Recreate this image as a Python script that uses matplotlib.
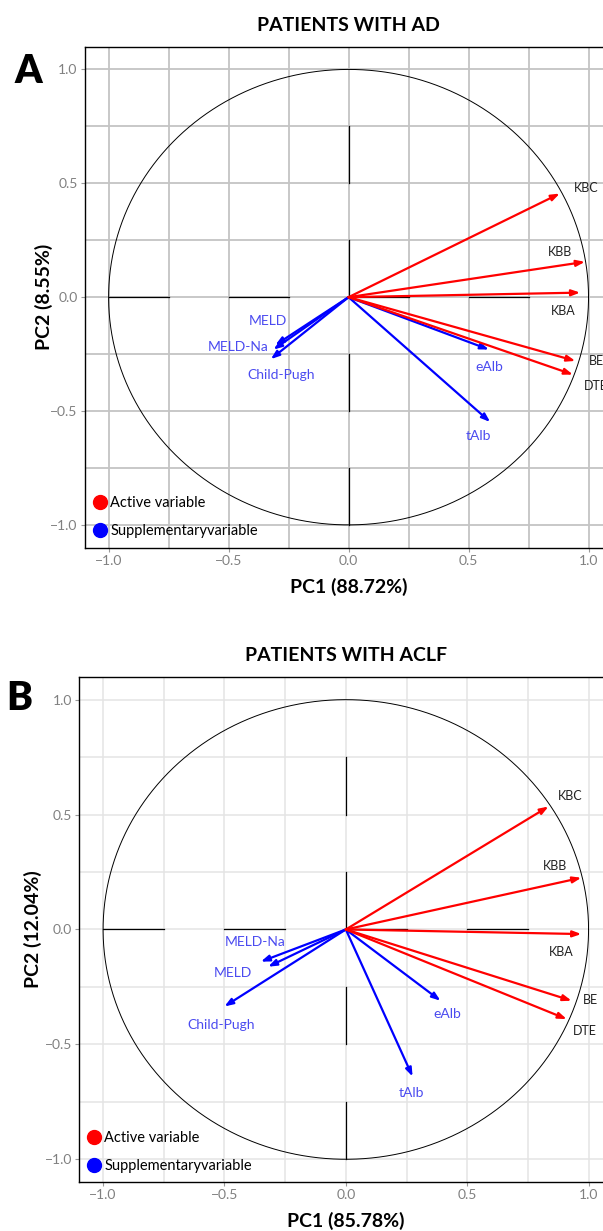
import numpy as np
import matplotlib
matplotlib.use('Agg')
import matplotlib.pyplot as plt
from matplotlib.lines import Line2D

# Panel A - patients with AD
ad_active = ['KBC', 'KBB', 'KBA', 'BE', 'DTE']
ad_active_pc1 = [0.88, 0.985, 0.965, 0.945, 0.935]
ad_active_pc2 = [0.455, 0.155, 0.02, -0.28, -0.34]
ad_supp = ['MELD', 'MELD-Na', 'Child-Pugh', 'eAlb', 'tAlb']
ad_supp_pc1 = [-0.305, -0.313, -0.324, 0.585, 0.59]
ad_supp_pc2 = [-0.21, -0.23, -0.272, -0.23, -0.548]
ad_var_pc1 = 88.72
ad_var_pc2 = 8.55

# Panel B - patients with ACLF
aclf_active = ['KBC', 'KBB', 'KBA', 'BE', 'DTE']
aclf_active_pc1 = [0.835, 0.97, 0.97, 0.93, 0.91]
aclf_active_pc2 = [0.535, 0.225, -0.02, -0.31, -0.39]
aclf_supp = ['MELD-Na', 'MELD', 'Child-Pugh', 'eAlb', 'tAlb']
aclf_supp_pc1 = [-0.35, -0.32, -0.5, 0.39, 0.275]
aclf_supp_pc2 = [-0.14, -0.162, -0.335, -0.31, -0.64]
aclf_var_pc1 = 85.78
aclf_var_pc2 = 12.04

plt.rcParams['font.family'] = ['Lato', 'DejaVu Sans']

RED = '#ff0000'
BLUE = '#0000ff'
LBLUE = '#4b4bf0'


def draw_panel(ax, title, active, a1, a2, supp, s1, s2, v1, v2,
               active_lbl, supp_lbl, grid_col, grid_lw, ylab_pad):
    ax.set_xlim(-1.1, 1.1)
    ax.set_ylim(-1.1, 1.1)
    ticks = np.arange(-1, 1.01, 0.5)
    ax.set_xticks(ticks)
    ax.set_yticks(ticks)
    ax.set_xticks(np.arange(-1, 1.01, 0.25), minor=True)
    ax.set_yticks(np.arange(-1, 1.01, 0.25), minor=True)
    ax.set_xticklabels(['\u22121.0', '\u22120.5', '0.0', '0.5', '1.0'])
    ax.set_yticklabels(['\u22121.0', '\u22120.5', '0.0', '0.5', '1.0'])
    ax.grid(True, which='both', color=grid_col, lw=grid_lw, zorder=0)
    ax.set_axisbelow(True)
    ax.tick_params(which='major', length=3, color='#999999', labelsize=10,
                   labelcolor='#808080', pad=2)
    ax.tick_params(which='minor', length=0)
    for sp in ax.spines.values():
        sp.set_color('black')
        sp.set_linewidth(1.0)

    # dashed reference lines at 0
    for s in np.arange(-1, 1, 0.5):
        ax.plot([s, s + 0.25], [0, 0], color='black', lw=0.9, zorder=1)
        ax.plot([0, 0], [s, s + 0.25], color='black', lw=0.9, zorder=1)

    # correlation circle
    t = np.linspace(0, 2 * np.pi, 400)
    ax.plot(np.cos(t), np.sin(t), color='black', lw=0.7, zorder=1)

    for names, xs, ys, col, lbl, tcol, fs in [(supp, s1, s2, BLUE, supp_lbl, LBLUE, 10),
                                              (active, a1, a2, RED, active_lbl, '#222222', 9)]:
        for n, x, y in zip(names, xs, ys):
            ax.annotate('', xy=(x, y), xytext=(0, 0),
                        arrowprops=dict(arrowstyle='-|>,head_length=0.55,head_width=0.2',
                                        color=col, lw=1.6, shrinkA=0, shrinkB=0,
                                        mutation_scale=9), zorder=3)
            lx, ly, ha = lbl[n]
            ax.text(lx, ly, n, color=tcol, fontsize=fs, ha=ha, va='center', zorder=4,
                    clip_on=False)

    handles = [Line2D([], [], marker='o', ls='', color=RED, ms=10),
               Line2D([], [], marker='o', ls='', color=BLUE, ms=10)]
    ax.legend(handles, ['Active variable', 'Supplementaryvariable'], loc='lower left',
              bbox_to_anchor=(0.0, 0.0), frameon=False, fontsize=10.5,
              handlelength=0.8, handletextpad=0.3, labelspacing=0.95, borderaxespad=0.25)

    ax.set_xlabel('PC1 (%.2f%%)' % v1, fontsize=14, fontweight='bold', labelpad=8)
    ax.set_ylabel('PC2 (%.2f%%)' % v2, fontsize=14, fontweight='bold', labelpad=ylab_pad)
    ax.set_title(title, fontsize=14, fontweight='bold', pad=11)


fig = plt.figure(figsize=(6.03, 12.31), dpi=100)
ax1 = fig.add_axes([0.1403, 0.5551, 0.8755, 0.4070])
ax2 = fig.add_axes([0.1307, 0.0396, 0.8856, 0.4107])

ad_active_lbl = {'KBC': (0.99, 0.48, 'center'), 'KBB': (0.88, 0.2, 'center'),
                 'KBA': (0.895, -0.06, 'center'), 'BE': (1.0, -0.28, 'left'),
                 'DTE': (0.98, -0.39, 'left')}
ad_supp_lbl = {'MELD': (-0.335, -0.104, 'center'), 'MELD-Na': (-0.335, -0.22, 'right'),
               'Child-Pugh': (-0.28, -0.34, 'center'), 'eAlb': (0.585, -0.305, 'center'),
               'tAlb': (0.54, -0.61, 'center')}
draw_panel(ax1, 'PATIENTS WITH AD', ad_active, ad_active_pc1, ad_active_pc2,
           ad_supp, ad_supp_pc1, ad_supp_pc2, ad_var_pc1, ad_var_pc2,
           ad_active_lbl, ad_supp_lbl, '#c4c4c4', 1.3, -2)

aclf_active_lbl = {'KBC': (0.925, 0.58, 'center'), 'KBB': (0.862, 0.278, 'center'),
                   'KBA': (0.889, -0.10, 'center'), 'BE': (0.975, -0.307, 'left'),
                   'DTE': (0.935, -0.44, 'left')}
aclf_supp_lbl = {'MELD-Na': (-0.374, -0.055, 'center'), 'MELD': (-0.466, -0.19, 'center'),
                 'Child-Pugh': (-0.514, -0.416, 'center'), 'eAlb': (0.417, -0.37, 'center'),
                 'tAlb': (0.27, -0.713, 'center')}
draw_panel(ax2, 'PATIENTS WITH ACLF', aclf_active, aclf_active_pc1, aclf_active_pc2,
           aclf_supp, aclf_supp_pc1, aclf_supp_pc2, aclf_var_pc1, aclf_var_pc2,
           aclf_active_lbl, aclf_supp_lbl, '#e4e4e4', 1.1, 2)

# panel letters
fig.text(28.5 / 603, 1 - 71.5 / 1231, 'A', fontsize=28, fontweight='heavy',
         ha='center', va='center')
fig.text(19.5 / 603, 1 - 699 / 1231, 'B', fontsize=28, fontweight='heavy',
         ha='center', va='center')

fig.savefig('out.png', dpi=100)
